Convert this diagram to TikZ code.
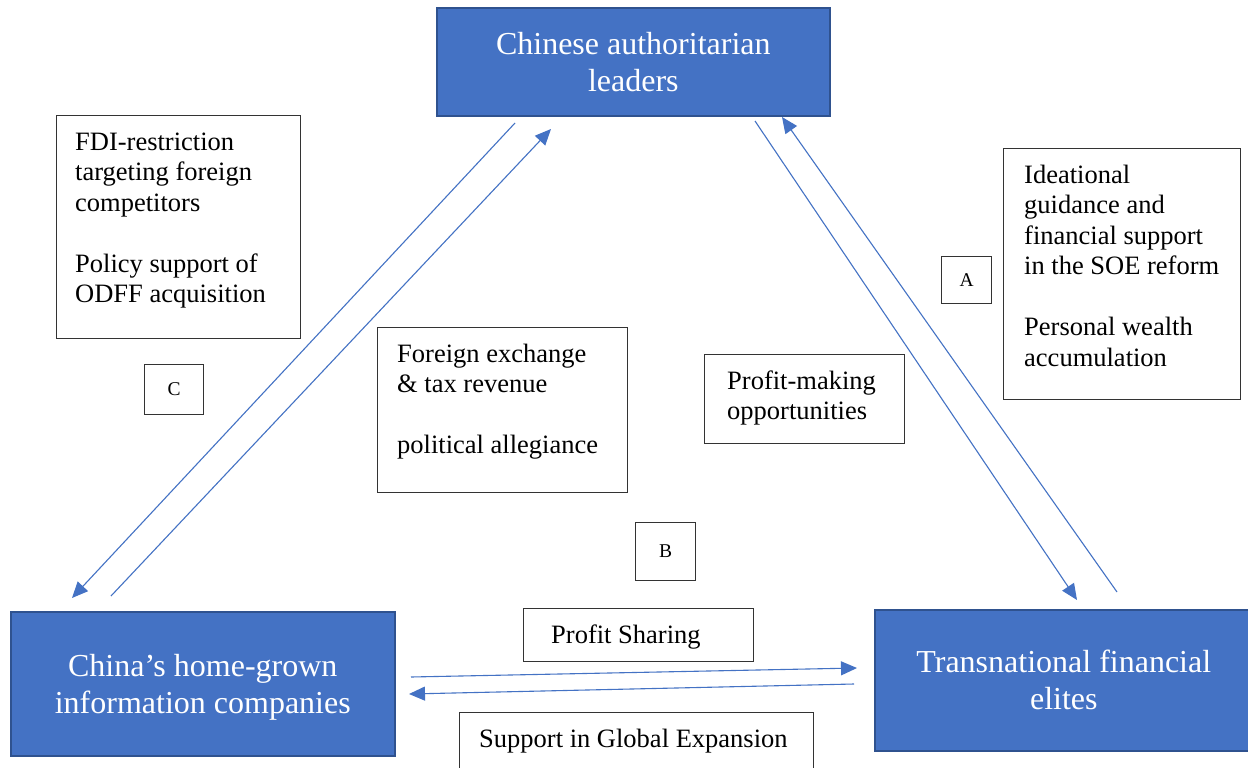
\documentclass[tikz,border=0pt]{standalone}
\usepackage{fontspec}
\setmainfont{Liberation Serif}
\usetikzlibrary{arrows.meta}
\definecolor{actorblue}{HTML}{4472C4}
\definecolor{actoredge}{HTML}{2F528F}
\newcommand\bodysize{\fontsize{26.5}{30.5}\selectfont}
\newcommand\actorsize{\fontsize{32}{37}\selectfont}
\newcommand\tagsize{\fontsize{19.5}{22}\selectfont}
\newcommand\firstline{\rule{0pt}{35pt}}
\begin{document}
\begin{tikzpicture}[x=1pt,y=-1pt,
  actor/.style={draw=actoredge, line width=1.6pt, fill=actorblue, text=white,
    anchor=north west, inner sep=0pt, align=center, font=\actorsize},
  note/.style={draw=black!80, line width=1.2pt, fill=white, anchor=north west, inner sep=0pt},
  notetext/.style={anchor=north west, inner sep=0pt, align=left, font=\bodysize},
  tag/.style={draw=black!80, line width=1.2pt, fill=white, anchor=north west,
    inner sep=0pt, font=\tagsize},
  flow/.style={draw=actorblue, line width=1.1pt, -{Triangle[length=16pt,width=14pt]}}]

\useasboundingbox[fill=white] (0,0) rectangle (1248,768);

% the three actors
\node[actor, minimum width=393pt, minimum height=108pt] (leaders) at (436,7)
  {Chinese authoritarian\\leaders};
\node[actor, minimum width=384pt, minimum height=144pt] (firms) at (10,611)
  {\rule{0pt}{30pt}China’s home-grown\\information companies};
\node[actor, minimum width=378pt, minimum height=141pt] (elites) at (874,609)
  {Transnational financial\\elites};

% exchanged resources
\node[note, minimum width=244pt, minimum height=223pt] (fdi) at (56,115) {};
\node[notetext] (fditext) at ([xshift=19pt]fdi.north west)
  {\firstline FDI-restriction\\targeting foreign\\competitors\\[30.5pt]Policy support of\\ODFF acquisition};

\node[note, minimum width=250pt, minimum height=165pt] (fx) at (377,327) {};
\node[notetext] (fxtext) at ([xshift=20pt]fx.north west)
  {\firstline Foreign exchange\\\& tax revenue\\[30.5pt]political allegiance};

\node[note, minimum width=200pt, minimum height=89pt] (pm) at (704,354) {};
\node[notetext] (pmtext) at ([xshift=23pt]pm.north west)
  {\firstline Profit-making\\opportunities};

\node[note, minimum width=237pt, minimum height=251pt] (idea) at (1003,148) {};
\node[notetext] (ideatext) at ([xshift=21pt]idea.north west)
  {\firstline Ideational\\guidance and\\financial support\\in the SOE reform\\[30.5pt]Personal wealth\\accumulation};

\node[note, minimum width=230pt, minimum height=53pt] (ps) at (523,608) {};
\node[notetext] (pstext) at ([xshift=28pt]ps.north west) {\firstline Profit Sharing};

\node[note, minimum width=354pt, minimum height=70pt] (sge) at (459,712) {};
\node[notetext] (sgetext) at ([xshift=20pt]sge.north west) {\firstline Support in Global Expansion};

% relation tags
\node[tag, minimum width=59pt, minimum height=50pt] (tagC) at (144,364) {C};
\node[tag, minimum width=50pt, minimum height=47pt] (tagA) at (941,256) {A};
\node[tag, minimum width=60pt, minimum height=58pt] (tagB) at (635,522) {B};

% connector ends
\coordinate (leadL1) at (515,123);
\coordinate (firmL1) at (72,598);
\coordinate (firmL2) at (111,596);
\coordinate (leadL2) at (551,129);
\coordinate (leadR1) at (755,121);
\coordinate (eliteR1) at (1077,600);
\coordinate (eliteR2) at (1117,592);
\coordinate (leadR2) at (782,117);
\coordinate (firmH1) at (411,677);
\coordinate (eliteH1) at (857,668);
\coordinate (eliteH2) at (854,684);
\coordinate (firmH2) at (409,694);

\draw[flow] (leadL1) -- (firmL1);
\draw[flow] (firmL2) -- (leadL2);
\draw[flow] (leadR1) -- (eliteR1);
\draw[flow] (eliteR2) -- (leadR2);
\draw[flow] (firmH1) -- (eliteH1);
\draw[flow] (eliteH2) -- (firmH2);
\end{tikzpicture}
\end{document}
